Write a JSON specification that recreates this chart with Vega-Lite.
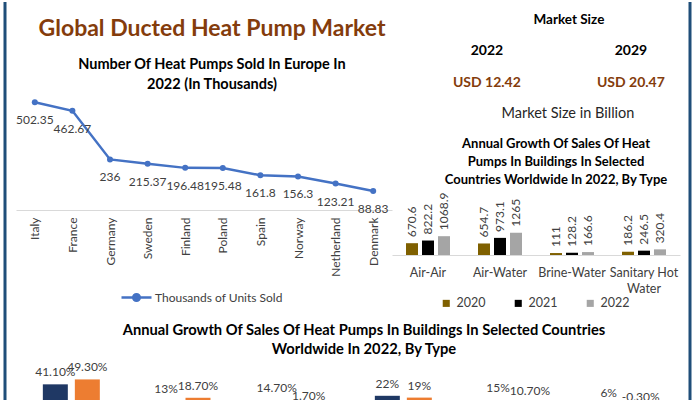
{
  "$schema": "https://vega.github.io/schema/vega-lite/v6.json",
  "padding": {"left": 3, "top": 0, "right": 0, "bottom": 0},
  "autosize": {"type": "pad"},
  "background": "white",
  "config": {"view": {"stroke": null}, "font": "Lato", "title": {"font": "Lato", "subtitleFont": "Lato"}, "axis": {"labelFont": "Lato"}, "legend": {"labelFont": "Lato"}},
  "bounds": "full",
  "spacing": 8,
  "resolve": {"scale": {"color": "independent", "xOffset": "independent"}, "legend": {"color": "independent"}},
  "hconcat": [
    {
      "width": 1, "height": 421,
      "data": {"values": [{"edge": "left"}]},
      "mark": {"type": "rule", "color": "#1F4E79", "strokeWidth": 3},
      "encoding": {"x": {"datum": 0, "type": "quantitative", "scale": {"domain": [0, 1]}, "axis": null}}
    },
    {
      "bounds": "full",
      "spacing": 12,
      "resolve": {"scale": {"color": "independent", "xOffset": "independent"}, "legend": {"color": "independent"}},
      "vconcat": [
        {
          "bounds": "flush",
          "spacing": 0,
          "resolve": {"scale": {"color": "independent", "xOffset": "independent"}, "legend": {"color": "independent"}},
          "hconcat": [
            {
              "width": 376, "height": 208,
              "title": {
                "text": "Global Ducted Heat Pump Market",
                "subtitle": ["Number Of Heat Pumps Sold In Europe In", "2022 (In Thousands)"],
                "fontSize": 23, "fontWeight": "bold", "color": "#843C0C",
                "subtitleFontSize": 14.5, "subtitleFontWeight": "bold", "subtitleColor": "#000000",
                "subtitlePadding": 17, "subtitleLineHeight": 20,
                "anchor": "middle", "offset": -89, "dx": 8
              },
              "data": {"values": [
                {"country": "Italy", "units": 502.35, "series": "Thousands of Units  Sold"},
                {"country": "France", "units": 462.67, "series": "Thousands of Units  Sold"},
                {"country": "Germany", "units": 236, "series": "Thousands of Units  Sold"},
                {"country": "Sweden", "units": 215.37, "series": "Thousands of Units  Sold"},
                {"country": "Finland", "units": 196.48, "series": "Thousands of Units  Sold"},
                {"country": "Poland", "units": 195.48, "series": "Thousands of Units  Sold"},
                {"country": "Spain", "units": 161.8, "series": "Thousands of Units  Sold"},
                {"country": "Norway", "units": 156.3, "series": "Thousands of Units  Sold"},
                {"country": "Netherland", "units": 123.21, "series": "Thousands of Units  Sold"},
                {"country": "Denmark", "units": 88.83, "series": "Thousands of Units  Sold"}
              ]},
              "encoding": {
                "x": {"field": "country", "type": "nominal", "sort": null, "scale": {"type": "point", "padding": 0.5},
                  "axis": {"title": null, "labelAngle": -90, "labelAlign": "right", "labelBaseline": "middle", "labelPadding": 7, "labelFontSize": 12, "labelColor": "#404040", "ticks": false, "domainColor": "#D9D9D9"}},
                "y": {"field": "units", "type": "quantitative", "scale": {"domain": [0, 970], "nice": false}, "axis": null}
              },
              "layer": [
                {
                  "mark": {"type": "line", "strokeWidth": 2.5, "point": {"filled": true, "size": 36}},
                  "encoding": {"color": {"field": "series", "type": "nominal", "scale": {"range": ["#4472C4"]},
                    "legend": {"orient": "none", "legendX": 104, "legendY": 279, "title": null, "labelFontSize": 12, "labelColor": "#404040",
                      "symbolType": "M-1,0H1M0.22,0A0.22,0.22,0,1,1,-0.22,0A0.22,0.22,0,1,1,0.22,0Z", "symbolSize": 900, "symbolStrokeWidth": 2.5,
                      "symbolFillColor": "#4472C4", "symbolStrokeColor": "#4472C4", "labelOffset": 2}}}
                },
                {
                  "mark": {"type": "text", "dy": 18, "fontSize": 12, "color": "#404040", "baseline": "middle"},
                  "encoding": {"text": {"field": "units", "type": "nominal"}}
                }
              ]
            },
            {
              "bounds": "flush",
              "spacing": 60,
              "resolve": {"scale": {"color": "independent", "xOffset": "independent"}, "legend": {"color": "independent"}},
              "vconcat": [
                {
                  "width": 288, "height": 130,
                  "data": {"values": [
                    {"row": "head", "col": "mid", "text": "Market Size"},
                    {"row": "year", "col": "2022", "text": "2022"},
                    {"row": "year", "col": "2029", "text": "2029"},
                    {"row": "value", "col": "2022", "text": "USD 12.42"},
                    {"row": "value", "col": "2029", "text": "USD 20.47"},
                    {"row": "note", "col": "mid", "text": "Market Size in Billion"}
                  ]},
                  "encoding": {
                    "x": {"field": "col", "type": "nominal", "scale": {"type": "point", "domain": ["2022", "mid", "2029"], "padding": 1.32, "align": 0.659}, "axis": null},
                    "y": {"field": "row", "type": "nominal", "scale": {"type": "point", "domain": ["head", "year", "value", "note"], "padding": 0.575}, "axis": null},
                    "text": {"field": "text", "type": "nominal"}
                  },
                  "layer": [
                    {"transform": [{"filter": "datum.row == 'head'"}], "mark": {"type": "text", "fontSize": 13.5, "fontWeight": "bold", "color": "#000000", "dx": 10, "baseline": "middle"}},
                    {"transform": [{"filter": "datum.row == 'year'"}], "mark": {"type": "text", "fontSize": 14, "fontWeight": "bold", "color": "#000000", "baseline": "middle"}},
                    {"transform": [{"filter": "datum.row == 'value'"}], "mark": {"type": "text", "fontSize": 14, "fontWeight": "bold", "color": "#843C0C", "baseline": "middle"}},
                    {"transform": [{"filter": "datum.row == 'note'"}], "mark": {"type": "text", "fontSize": 14.5, "color": "#262626", "dx": 9, "baseline": "middle"}}
                  ]
                },
                {
                  "width": 288, "height": 63,
                  "title": {"text": ["Annual Growth Of Sales Of Heat", "Pumps In Buildings In Selected", "Countries Worldwide In 2022, By Type"], "fontSize": 13, "fontWeight": "bold", "color": "#000000", "lineHeight": 18, "offset": 5, "dx": 20, "anchor": "middle"},
                  "data": {"values": [
                    {"type": "Air-Air", "year": "2020", "sales": 670.6},
                    {"type": "Air-Air", "year": "2021", "sales": 822.2},
                    {"type": "Air-Air", "year": "2022", "sales": 1068.9},
                    {"type": "Air-Water", "year": "2020", "sales": 654.7},
                    {"type": "Air-Water", "year": "2021", "sales": 973.1},
                    {"type": "Air-Water", "year": "2022", "sales": 1265},
                    {"type": "Brine-Water", "year": "2020", "sales": 111},
                    {"type": "Brine-Water", "year": "2021", "sales": 128.2},
                    {"type": "Brine-Water", "year": "2022", "sales": 166.6},
                    {"type": "Sanitary Hot Water", "year": "2020", "sales": 186.2},
                    {"type": "Sanitary Hot Water", "year": "2021", "sales": 246.5},
                    {"type": "Sanitary Hot Water", "year": "2022", "sales": 320.4}
                  ]},
                  "encoding": {
                    "x": {"field": "type", "type": "nominal", "sort": null, "scale": {"paddingInner": 0.389, "paddingOuter": 0.1945},
                      "axis": {"title": null, "labelAngle": 0, "ticks": false, "domainColor": "#D9D9D9", "labelPadding": 11, "labelFontSize": 12.5, "labelColor": "#404040", "labelLineHeight": 16, "labelBaseline": "top",
                        "labelExpr": "datum.label == 'Sanitary Hot Water' ? ['Sanitary Hot', 'Water'] : datum.label"}},
                    "xOffset": {"field": "year", "type": "nominal", "scale": {"paddingInner": 0.25, "paddingOuter": 0}},
                    "y": {"field": "sales", "type": "quantitative", "scale": {"domain": [0, 3580], "nice": false}, "axis": null}
                  },
                  "layer": [
                    {"mark": {"type": "bar"},
                      "encoding": {"color": {"field": "year", "type": "nominal", "scale": {"domain": ["2020", "2021", "2022"], "range": ["#7F6000", "#000000", "#A5A5A5"]},
                        "legend": {"orient": "none", "direction": "horizontal", "legendX": 48, "legendY": 105, "title": null, "symbolType": "square", "symbolSize": 50, "labelFontSize": 12.5, "labelColor": "#404040", "columnPadding": 26, "labelOffset": 4}}}},
                    {"mark": {"type": "text", "angle": 270, "align": "left", "baseline": "middle", "dx": 6, "fontSize": 12, "color": "#404040"},
                      "encoding": {"text": {"field": "sales", "type": "nominal"}}}
                  ]
                }
              ]
            }
          ]
        },
        {
          "width": 664, "height": 56,
          "title": {"text": ["Annual Growth Of Sales Of Heat Pumps In Buildings In Selected Countries", "Worldwide In 2022, By Type"], "fontSize": 14.7, "fontWeight": "bold", "color": "#000000", "lineHeight": 19, "offset": 5, "dx": 16, "anchor": "middle"},
          "data": {"values": [
            {"group": "Group 1", "series": "A", "growth": 41.1, "label": "41.10%"},
            {"group": "Group 1", "series": "B", "growth": 49.3, "label": "49.30%"},
            {"group": "Group 2", "series": "A", "growth": 13, "label": "13%"},
            {"group": "Group 2", "series": "B", "growth": 18.7, "label": "18.70%"},
            {"group": "Group 3", "series": "A", "growth": 14.7, "label": "14.70%"},
            {"group": "Group 3", "series": "B", "growth": 1.7, "label": "1.70%"},
            {"group": "Group 4", "series": "A", "growth": 22, "label": "22%"},
            {"group": "Group 4", "series": "B", "growth": 19, "label": "19%"},
            {"group": "Group 5", "series": "A", "growth": 15, "label": "15%"},
            {"group": "Group 5", "series": "B", "growth": 10.7, "label": "10.70%"},
            {"group": "Group 6", "series": "A", "growth": 6, "label": "6%"},
            {"group": "Group 6", "series": "B", "growth": -0.3, "label": "-0.30%"}
          ]},
          "encoding": {
            "x": {"field": "group", "type": "nominal", "sort": null, "scale": {"paddingInner": 0.485, "paddingOuter": 0.2425}, "axis": null},
            "xOffset": {"field": "series", "type": "nominal", "scale": {"paddingInner": 0.219, "paddingOuter": 0}},
            "y": {"field": "growth", "type": "quantitative", "scale": {"domain": [-20, 73.33], "nice": false}, "axis": null}
          },
          "layer": [
            {"mark": {"type": "bar"},
              "encoding": {"color": {"field": "series", "type": "nominal", "scale": {"domain": ["A", "B"], "range": ["#1F3864", "#ED7D31"]}, "legend": null}}},
            {"mark": {"type": "text", "dy": -12, "baseline": "middle", "fontSize": 12, "color": "#404040"},
              "encoding": {"text": {"field": "label", "type": "nominal"}}}
          ]
        }
      ]
    },
    {
      "width": 2, "height": 421,
      "data": {"values": [{"edge": "right"}]},
      "mark": {"type": "rule", "color": "#1F4E79", "strokeWidth": 3},
      "encoding": {"x": {"datum": 1, "type": "quantitative", "scale": {"domain": [0, 1]}, "axis": null}}
    }
  ]
}
